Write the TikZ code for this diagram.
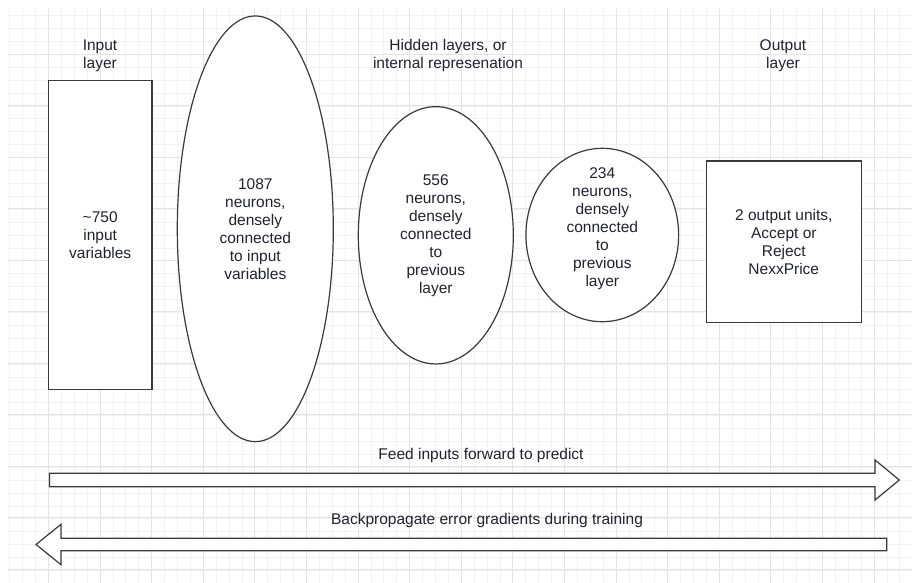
\documentclass[tikz,border=0pt]{standalone}
\usepackage{fontspec}
\setmainfont{Liberation Sans}
\usetikzlibrary{positioning,shapes.geometric}
\definecolor{ink}{HTML}{3A3A3A}
\definecolor{label}{HTML}{222230}
\definecolor{gridmaj}{HTML}{E4E4E4}
\definecolor{gridmin}{HTML}{F2F2F2}
\tikzset{
  txt/.style={text=label,align=center,inner sep=0pt,font=\fontsize{15.5}{18}\selectfont},
  layerbox/.style={txt,draw=ink,line width=1.2pt,fill=white},
  neurons/.style={layerbox,ellipse},
  fatarrow/.style={draw=ink,line width=1.2pt,fill=white,line join=miter}
}

\begin{document}
\begin{tikzpicture}[x=1pt,y=-1pt]
  \useasboundingbox (0,0) rectangle (912,583);
  \fill[white] (0,0) rectangle (912,583);
  % grid
  \begin{scope}
    \clip (8,8) rectangle (912,583);
    \foreach \i in {0,...,70} \draw[gridmin,line width=0.8pt] ({9.7+12.9*\i},8) -- ++(0,575);
    \foreach \i in {0,...,43} \draw[gridmin,line width=0.8pt] (8,{15.7+12.9*\i}) -- ++(904,0);
    \foreach \i in {0,...,16} \draw[gridmaj,line width=1pt] ({48.4+51.6*\i},8) -- ++(0,575);
    \foreach \i in {0,...,10} \draw[gridmaj,line width=1pt] (8,{54.3+51.5*\i}) -- ++(904,0);
  \end{scope}

  % layers
  \node[layerbox,minimum width=103.7pt,minimum height=309pt] (inp) at (100.2,234.8) {\textasciitilde750\\input\\variables};
  \node[neurons,minimum width=156pt,minimum height=425.7pt] (hid1) at (255.3,228.8) {1087\\neurons,\\densely\\connected\\to input\\variables};
  \node[neurons,minimum width=155pt,minimum height=257.3pt] (hid2) at (435.8,235.3) {};
  \node[txt] (hid2txt) at (hid2) {556\\neurons,\\densely\\connected\\to\\previous\\layer};
  \node[neurons,minimum width=152.7pt,minimum height=173.4pt] (hid3) at (602.3,235) {};
  \node[txt] (hid3txt) at (602.3,229) {234\\neurons,\\densely\\connected\\to\\previous\\layer};
  \node[layerbox,minimum width=155pt,minimum height=161.3pt] (outp) at (783.8,241.7) {2 output units,\\Accept or\\Reject\\NexxPrice};

  % headings
  \node[txt] (inplbl) at (100,55.5) {Input\\layer};
  \node[txt] (hidlbl) at (448,55.5) {Hidden layers, or\\internal represenation};
  \node[txt] (outlbl) at (783,55.5) {Output\\layer};

  % forward / backward
  \draw[fatarrow] (49.4,473.3) -- (875,473.3) -- (875,460) -- (899.3,480) -- (875,500) -- (875,486.7) -- (49.4,486.7) -- cycle;
  \node[txt] (fwd) at (481,455) {Feed inputs forward to predict};
  \draw[fatarrow] (886.7,538.3) -- (61,538.3) -- (61,524.3) -- (36,544.5) -- (61,564.7) -- (61,550.7) -- (886.7,550.7) -- cycle;
  \node[txt] (bwd) at (487,520) {Backpropagate error gradients during training};
\end{tikzpicture}
\end{document}
